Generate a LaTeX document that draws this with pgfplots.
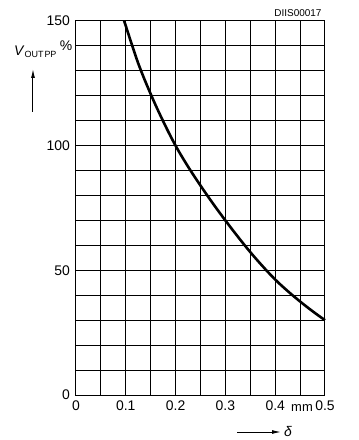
\documentclass[border=0pt]{standalone}
\usepackage{fontspec}
\setmainfont{Liberation Sans}
\usepackage{pgfplots}
\pgfplotsset{compat=1.18}
\usetikzlibrary{arrows.meta}
\begin{document}
\begin{tikzpicture}[x=1bp,y=1bp]
\useasboundingbox (-76bp,-45bp) rectangle (283bp,395bp);
\begin{axis}[
  at={(0,0)}, anchor=south west,
  scale only axis, width=249bp, height=374bp,
  xmin=0, xmax=0.5, ymin=0, ymax=150,
  xtick={0,0.1,0.2,0.3,0.4,0.5},
  xticklabels={0,0.1,0.2,0.3,0.4,0.5},
  minor xtick={0.05,0.15,0.25,0.35,0.45},
  ytick={0,50,100,150},
  yticklabels={0,50,100,150},
  minor ytick={10,20,30,40,60,70,80,90,110,120,130,140},
  grid=both,
  major grid style={black, line width=1bp},
  minor grid style={black, line width=1bp},
  axis line style={black, line width=1bp},
  major tick length=0pt, minor tick length=0pt,
  tick label style={font=\fontsize{14}{16}\selectfont},
  xticklabel style={anchor=north, inner sep=0pt, yshift=-6bp},
  yticklabel style={anchor=east, inner sep=0pt, xshift=-6bp},
  clip=false,
]
\addplot[black, line width=2.6bp, smooth, tension=0.6] coordinates {
 (0.0967,150) (0.1,148) (0.125,133) (0.15,120.7) (0.175,109.8) (0.2,100)
 (0.225,91.6) (0.25,84) (0.275,76.8) (0.3,70) (0.325,63.5) (0.35,57.3)
 (0.375,51.6) (0.4,46.3) (0.425,41.7) (0.45,37.5) (0.475,33.6) (0.5,30)
};
\end{axis}
\node[font=\fontsize{14}{16}\selectfont] at (-10bp,349bp) {\%};
\node[font=\fontsize{14}{16}\selectfont, anchor=west, inner sep=0pt] at (-62bp,343bp) {\textit{V}\textsubscript{\fontsize{9}{11}\selectfont OUT\kern1bp PP}};
\draw[line width=1bp, -{Latex[length=9bp,width=4bp]}] (-43bp,283bp) -- (-43bp,326bp);
\node[font=\fontsize{10}{12}\selectfont] at (222bp,382bp) {DIIS00017};
\node[font=\fontsize{13}{15}\selectfont, anchor=base, inner sep=0pt] at (226bp,-16bp) {mm};
\draw[line width=1bp, -{Latex[length=9bp,width=4bp]}] (161bp,-37bp) -- (205bp,-37bp);
\node[font=\fontsize{14}{16}\selectfont] at (212bp,-37bp) {\textit{δ}};
\end{tikzpicture}
\end{document}
